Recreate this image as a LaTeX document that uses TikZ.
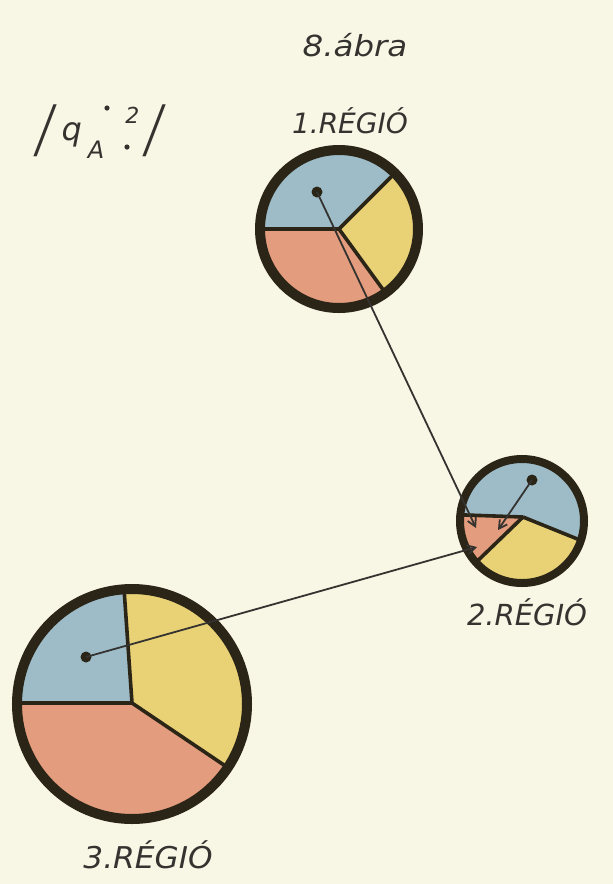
\documentclass[tikz,border=0pt]{standalone}
\usepackage{fontspec}
\setmainfont{DejaVu Sans}
\newfontfamily\slantbarfont[FakeSlant=0.5]{DejaVu Sans}
\usetikzlibrary{arrows.meta}
\definecolor{bg}{HTML}{F8F6E4}
\definecolor{pblue}{HTML}{9DBCC8}
\definecolor{pyellow}{HTML}{E9D176}
\definecolor{pred}{HTML}{E39C7D}
\definecolor{rim}{HTML}{2B2518}
\definecolor{ink}{HTML}{353330}
\tikzset{
  divider/.style={rim, line width=3.6pt},
  rimline/.style={rim},
  dotmark/.style={circle, fill=rim, inner sep=0pt, minimum size=11pt},
  link/.style={ink, line width=1.8pt, -{Straight Barb[length=8pt,width=9pt,line width=1.8pt]}},
  lbl/.style={ink, inner sep=0pt, font=\fontsize{29}{29}\selectfont\itshape},
}
\newcommand{\slbar}{\raisebox{-4pt}{\slantbarfont\fontsize{40}{40}\selectfont\scalebox{1}[1.3]{|}}}
\begin{document}
\begin{tikzpicture}[x=1pt,y=-1pt]
\fill[bg] (0,0) rectangle (613,884);
\useasboundingbox (0,0) rectangle (613,884);

% ---------- circle 1 ----------
\coordinate (c1) at (339,229);
\coordinate (v1) at (339,229);
\begin{scope}
\clip (c1) circle[radius=80];
\fill[pblue]   (v1) -- ++(-180:200) arc[start angle=-180, end angle=-45, radius=200] -- cycle;
\fill[pyellow] (v1) -- ++(-45:200) arc[start angle=-45, end angle=54, radius=200] -- cycle;
\fill[pred]    (v1) -- ++(54:200) arc[start angle=54, end angle=180, radius=200] -- cycle;
\draw[divider] (v1) -- ++(-180:80);
\draw[divider] (v1) -- ++(-45:80);
\draw[divider] (v1) -- ++(54:80);
\end{scope}
\draw[rimline, line width=10pt] (c1) circle[radius=79];

% ---------- circle 2 ----------
\coordinate (c2) at (522,521);
\coordinate (v2) at (523,517);
\begin{scope}
\clip (c2) circle[radius=62];
\fill[pblue]   (v2) -- ++(-178:200) arc[start angle=-178, end angle=22, radius=200] -- cycle;
\fill[pyellow] (v2) -- ++(22:200) arc[start angle=22, end angle=136, radius=200] -- cycle;
\fill[pred]    (v2) -- ++(136:200) arc[start angle=136, end angle=182, radius=200] -- cycle;
\draw[divider] (v2) -- ++(-178:70);
\draw[divider] (v2) -- ++(22:70);
\draw[divider] (v2) -- ++(136:70);
\end{scope}
\draw[rimline, line width=8pt] (c2) circle[radius=62];

% ---------- circle 3 ----------
\coordinate (c3) at (132,704);
\coordinate (v3) at (132,703);
\begin{scope}
\clip (c3) circle[radius=115];
\fill[pblue]   (v3) -- ++(-180:300) arc[start angle=-180, end angle=-94, radius=300] -- cycle;
\fill[pyellow] (v3) -- ++(-94:300) arc[start angle=-94, end angle=34, radius=300] -- cycle;
\fill[pred]    (v3) -- ++(34:300) arc[start angle=34, end angle=180, radius=300] -- cycle;
\draw[divider] (v3) -- ++(-180:120);
\draw[divider] (v3) -- ++(-94:120);
\draw[divider] (v3) -- ++(34:120);
\end{scope}
\draw[rimline, line width=10pt] (c3) circle[radius=115];

% ---------- dots and arrows ----------
\node[dotmark] (d1) at (317,192) {};
\node[dotmark] (d2) at (532,480) {};
\node[dotmark] (d3) at (86,657) {};
\coordinate (t1) at (476,528);
\coordinate (t2) at (498,530);
\coordinate (t3) at (477,547);
\draw[link] (d1.center) -- (t1);
\draw[link] (d2.center) -- (t2);
\draw[link] (d3.center) -- (t3);

% ---------- labels ----------
\node[lbl] (title) at (355,45) {\scalebox{1.12}[1]{\fontsize{29}{29}\selectfont 8.ábra}};
\node[lbl, font=\fontsize{28}{28}\selectfont\itshape] (r1) at (350,121) {1.RÉGIÓ};
\node[lbl] (r2) at (527,612) {2.RÉGIÓ};
\node[lbl, font=\fontsize{30}{30}\selectfont\itshape] (r3) at (148,855) {\scalebox{1.04}[1]{3.RÉGIÓ}};
\node[ink, anchor=base west, inner sep=0pt, font=\fontsize{32}{32}\selectfont\itshape] (q) at (33,140)
  {\slbar\hspace{15pt}q\hspace{6pt}\raisebox{-18pt}{\fontsize{24}{24}\selectfont A}\hspace{21pt}\raisebox{17pt}{\fontsize{22}{22}\selectfont 2}\hspace{3pt}\slbar};
\fill[ink] (107,108) circle[radius=2.6];
\fill[ink] (127,147) circle[radius=2.6];
\end{tikzpicture}
\end{document}
